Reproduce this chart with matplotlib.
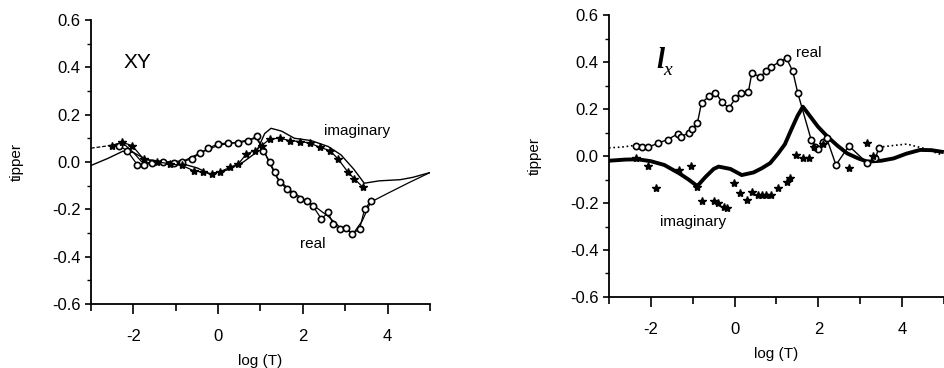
import numpy as np
import matplotlib
matplotlib.use("Agg")
import matplotlib.pyplot as plt

plt.rcParams['font.family'] = ['Liberation Sans Narrow', 'Liberation Sans', 'DejaVu Sans']

# ---- XY panel ----
xy_real_x = [-2.35, -2.15, -1.91, -1.76, -1.56, -1.29, -1.05, -0.85, -0.62, -0.42, -0.23, 0.0, 0.24, 0.48,
             0.71, 0.91, 1.07, 1.22, 1.34, 1.46, 1.62, 1.77, 1.93, 2.09, 2.24, 2.44, 2.60, 2.71, 2.87, 3.03,
             3.17, 3.34, 3.46, 3.62]
xy_real_y = [0.069, 0.048, -0.011, -0.011, -0.006, 0.0, -0.004, 0.001, 0.013, 0.038, 0.058, 0.076, 0.08, 0.08,
             0.09, 0.108, 0.048, 0.0, -0.044, -0.086, -0.114, -0.135, -0.156, -0.163, -0.187, -0.241, -0.213,
             -0.262, -0.283, -0.28, -0.304, -0.283, -0.199, -0.163]
xy_imag_x = [-2.5, -2.27, -2.03, -1.76, -1.44, -1.13, -0.85, -0.58, -0.35, -0.15, 0.05, 0.28, 0.48, 0.67,
             0.87, 1.03, 1.22, 1.46, 1.69, 1.93, 2.16, 2.4, 2.64, 2.83, 3.07, 3.22, 3.42]
xy_imag_y = [0.069, 0.083, 0.069, 0.013, 0.0, -0.008, -0.015, -0.037, -0.044, -0.051, -0.041, -0.023, -0.008,
             0.034, 0.048, 0.069, 0.097, 0.1, 0.09, 0.086, 0.08, 0.062, 0.048, 0.013, -0.044, -0.072, -0.107]
xy_real_model_x = [-3, -2.6, -2.25, -2.0, -1.8, -1.5, -1.2, -0.8, -0.4, 0, 0.5, 0.9, 1.05, 1.2, 1.4, 1.7, 2.0,
                   2.3, 2.6, 2.9, 3.2, 3.4, 3.6, 4.0, 4.5, 5.0]
xy_real_model_y = [0.058, 0.068, 0.08, 0.04, 0.0, -0.005, 0.0, 0.005, 0.04, 0.07, 0.085, 0.1, 0.06, 0.0, -0.07,
                   -0.12, -0.155, -0.19, -0.23, -0.28, -0.3, -0.25, -0.17, -0.133, -0.088, -0.045]
xy_imag_model_x = [-3, -2.6, -2.25, -2.0, -1.7, -1.2, -0.8, -0.5, -0.2, 0.2, 0.6, 0.9, 1.0, 1.1, 1.25, 1.5, 1.8,
                   2.2, 2.6, 2.9, 3.2, 3.45, 3.8, 4.3, 4.6, 5.0]
xy_imag_model_y = [-0.015, 0.015, 0.045, 0.04, 0.01, 0.0, -0.01, -0.025, -0.05, -0.035, 0.0, 0.04, 0.08, 0.12,
                   0.142, 0.13, 0.1, 0.09, 0.065, 0.03, -0.03, -0.09, -0.08, -0.075, -0.065, -0.045]

# ---- tx panel ----
tx_real_x = [-2.35, -2.2, -2.07, -1.84, -1.6, -1.36, -1.28, -1.1, -1.01, -0.89, -0.79, -0.6, -0.46, -0.3, -0.14,
             0.02, 0.15, 0.33, 0.41, 0.61, 0.75, 0.88, 1.08, 1.24, 1.39, 1.51, 1.83, 1.91, 2.0, 2.1, 2.2, 2.42,
             2.73, 3.17, 3.36, 3.44]
tx_real_y = [0.043, 0.04, 0.037, 0.054, 0.07, 0.094, 0.08, 0.1, 0.114, 0.139, 0.227, 0.255, 0.27, 0.231, 0.203,
             0.246, 0.27, 0.274, 0.352, 0.338, 0.36, 0.38, 0.402, 0.416, 0.36, 0.267, 0.068, 0.04, 0.03, 0.06,
             0.075, -0.038, 0.043, -0.031, -0.01, 0.033]
tx_imag_x = [-2.35, -2.07, -1.87, -1.32, -1.03, -0.89, -0.77, -0.5, -0.4, -0.26, -0.17, -0.02, 0.13, 0.29, 0.41,
             0.55, 0.65, 0.75, 0.88, 1.04, 1.24, 1.32, 1.47, 1.63, 1.78, 1.9, 2.1, 2.73, 3.17, 3.3]
tx_imag_y = [-0.01, -0.043, -0.138, -0.06, -0.043, -0.131, -0.19, -0.19, -0.2, -0.216, -0.22, -0.116, -0.159,
             -0.187, -0.152, -0.165, -0.166, -0.166, -0.166, -0.138, -0.109, -0.095, 0.004, -0.01, -0.01, 0.04,
             0.05, -0.052, 0.054, 0.0]
tx_real_model_x = [-3, -2.7, -2.4, 3.44, 3.56, 3.8, 4.11, 4.51, 4.95]
tx_real_model_y = [0.035, 0.038, 0.045, 0.033, 0.04, 0.045, 0.051, 0.033, 0.005]
tx_imag_model_x = [-3, -2.6, -2.31, -2.0, -1.68, -1.32, -1.1, -0.89, -0.7, -0.5, -0.38, -0.1, 0.17, 0.45, 0.65,
                   0.85, 1.04, 1.2, 1.35, 1.5, 1.63, 1.8, 1.99, 2.22, 2.45, 2.69, 2.95, 3.17, 3.5, 3.8, 4.1,
                   4.43, 4.7, 4.95]
tx_imag_model_y = [-0.02, -0.015, -0.014, -0.022, -0.038, -0.074, -0.1, -0.128, -0.09, -0.055, -0.045, -0.055,
                   -0.081, -0.07, -0.052, -0.03, 0.011, 0.05, 0.111, 0.17, 0.21, 0.17, 0.125, 0.082, 0.045, 0.011,
                   -0.01, -0.024, -0.02, -0.01, 0.01, 0.026, 0.025, 0.018]

yticks = [-0.6, -0.4, -0.2, 0.0, 0.2, 0.4, 0.6]


def style_axes(ax, xmax):
    ax.set_xlim(-3, xmax)
    ax.set_ylim(-0.6, 0.6)
    for s in ['top', 'right']:
        ax.spines[s].set_visible(False)
    for s in ['left', 'bottom']:
        ax.spines[s].set_linewidth(1.3)
    ax.set_xticks([-2, 0, 2, 4])
    ax.set_xticklabels(['-2', '0', '2', '4'])
    ax.set_xticks([-3, -1, 1, 3, 5], minor=True)
    ax.set_yticks(yticks)
    ax.set_yticklabels(['%.1f' % v for v in yticks])
    ax.set_yticks([-0.5, -0.3, -0.1, 0.1, 0.3, 0.5], minor=True)
    ax.tick_params(axis='x', which='major', direction='out', length=7, width=1.2, pad=11, labelsize=12)
    ax.tick_params(axis='x', which='minor', direction='out', length=5, width=1.2)
    ax.tick_params(axis='y', which='major', direction='out', length=4.5, width=1.2, pad=3, labelsize=12)
    ax.tick_params(axis='y', which='minor', direction='out', length=3, width=1.0)
    ax.set_xlabel('log (T)', fontsize=11, labelpad=7)
    ax.set_ylabel('tipper', fontsize=11, labelpad=20)


fig = plt.figure(figsize=(9.44, 3.68), dpi=100)

ax1 = fig.add_axes([0.0964, 0.174, 0.359, 0.772])
ax1.plot(xy_real_model_x[:3], xy_real_model_y[:3], color='black', lw=0.9, ls=(0, (3, 1.5)))
ax1.plot(xy_real_model_x[2:], xy_real_model_y[2:], color='black', lw=0.9)
ax1.plot(xy_imag_model_x, xy_imag_model_y, color='black', lw=1.0)
ax1.plot(xy_real_x, xy_real_y, color='black', lw=0.9, marker='o', ms=4.5, mfc='white', mec='black', mew=1.2)
ax1.plot(xy_imag_x, xy_imag_y, color='black', lw=0.9, marker='*', ms=6, mfc='black', mec='black')
ax1.text(-1.9, 0.42, 'XY', fontsize=15, ha='center', va='center')
ax1.text(3.27, 0.13, 'imaginary', fontsize=11, ha='center', va='center')
ax1.text(2.24, -0.345, 'real', fontsize=11, ha='center', va='center')
style_axes(ax1, 5)

ax2 = fig.add_axes([0.6451, 0.193, 0.3549, 0.766])
ax2.plot(tx_real_model_x[:3], tx_real_model_y[:3], color='black', lw=1.2, ls=':')
ax2.plot(tx_real_model_x[3:], tx_real_model_y[3:], color='black', lw=1.2, ls=':')
ax2.plot(tx_imag_model_x, tx_imag_model_y, color='black', lw=2.8)
ax2.plot(tx_real_x, tx_real_y, color='black', lw=1.0, marker='o', ms=4.5, mfc='white', mec='black', mew=1.2)
ax2.plot(tx_imag_x, tx_imag_y, ls='none', marker='*', ms=6, mfc='black', mec='black')
ax2.text(-1.78, 0.405, 'l', fontsize=21, ha='center', va='center',
         family='Liberation Serif', style='italic', weight='bold')
ax2.text(-1.6, 0.365, 'x', fontsize=14, ha='center', va='center',
         family='Liberation Serif', style='italic')
ax2.text(1.78, 0.44, 'real', fontsize=11, ha='center', va='center')
ax2.text(-1.0, -0.28, 'imaginary', fontsize=11, ha='center', va='center')
style_axes(ax2, 4.93)

fig.savefig('out.png', dpi=100)
